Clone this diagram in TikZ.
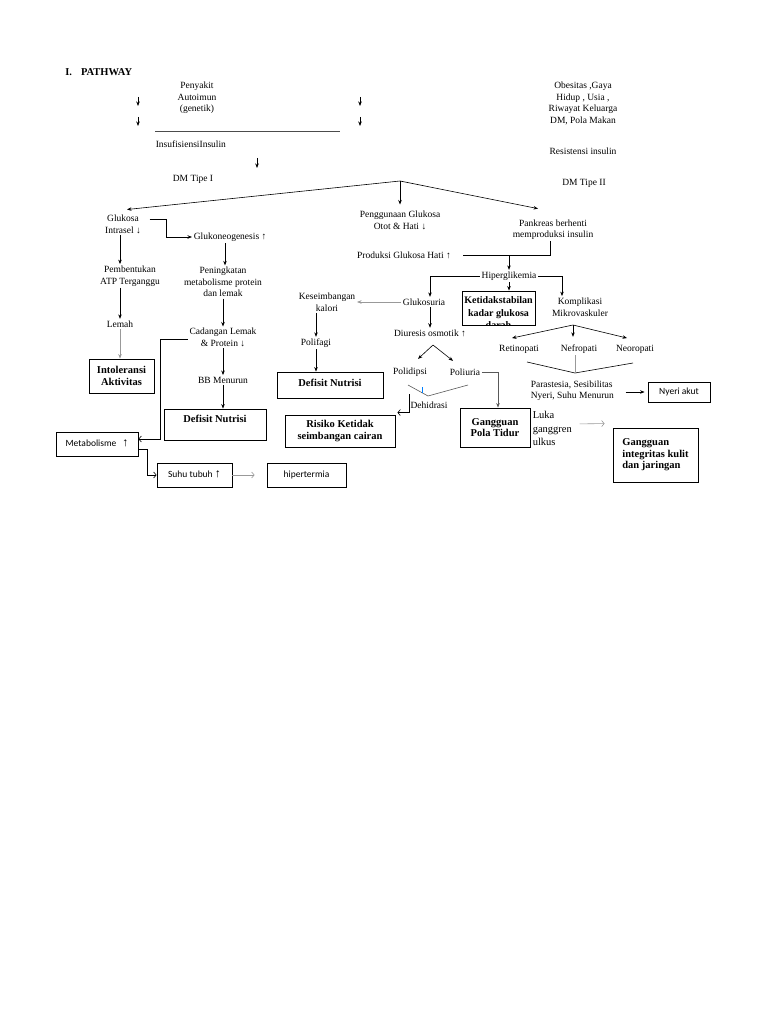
\documentclass[tikz,border=0pt]{standalone}
\usepackage{fontspec}
\setmainfont{Liberation Serif}
\newfontfamily\calibri{Carlito}
\newfontfamily\arialfont{Liberation Sans}
\usetikzlibrary{arrows.meta}

\tikzset{
  txt/.style={align=center,inner sep=1.5pt,font=\fontsize{9.5}{11.5}\selectfont},
  lbox/.style={draw,line width=0.9pt,align=center,inner sep=2pt,font=\bfseries\fontsize{10.5}{11.5}\selectfont},
  cbox/.style={draw,line width=0.9pt,inner sep=2pt,font=\calibri\fontsize{9.5}{11}\selectfont},
  arr/.style={-{Stealth[length=4.5pt,width=3.5pt]}},
  oarr/.style={-{Straight Barb[length=2.5pt,width=6pt]}},
  faint/.style={draw=gray!80},
}
\newcommand{\uparr}{{\arialfont\fontsize{12}{12}\selectfont ↑}}

\begin{document}
\begin{tikzpicture}[x=1pt,y=-1pt,line width=0.6pt]
			\useasboundingbox (0,0) rectangle (768,1024);
			%\draw[help lines,step=50] (0,0) grid (768,1024);
			\node[anchor=west,inner sep=0,font=\bfseries\fontsize{10.5}{12}\selectfont] (title) at (65,72) {I.\hspace{9pt}PATHWAY};
			% causes
			\node[txt] (autoimun) at (197,98) {Penyakit\\Autoimun\\(genetik)};
			\node[txt,anchor=west] (insuf) at (154,144) {InsufisiensiInsulin};
			\node[txt] (dmone) at (193,179) {DM Tipe I};
			\node[txt,font=\fontsize{9.5}{11.7}\selectfont] (faktor) at (583,103.5) {Obesitas ,Gaya\\Hidup , Usia ,\\Riwayat Keluarga\\DM, Pola Makan};
			\node[txt] (resist) at (583,151) {Resistensi insulin};
			\node[txt] (dmtwo) at (584,183) {DM Tipe II};
			\foreach \x in {138,360}
				\foreach \y in {97,117}
					\draw[arr] (\x,\y) -- (\x,\y+9);
			\draw[gray!60!black] (155,131) -- (340,131);
			\draw[arr] (257,158) -- (257,168);
			% left branch
			\coordinate (split) at (400,181);
			\node[txt] (glukosa) at (123,224.5) {Glukosa\\Intrasel ↓};
			\node[txt,anchor=west] (neogen) at (192,237) {Glukoneogenesis ↑};
			\node[txt] (atp) at (130,276) {Pembentukan\\ATP Terganggu};
			\node[txt] (lemah) at (120,324) {Lemah};
			\node[lbox,minimum width=65pt,minimum height=34pt] (intol) at (121.5,376) {Intoleransi\\Aktivitas};
			\node[txt] (protein) at (223,282) {Peningkatan\\metabolisme protein\\dan lemak};
			\node[txt] (cadangan) at (223,337.5) {Cadangan Lemak\\\& Protein ↓};
			\node[txt] (bb) at (223,380) {BB Menurun};
			\node[lbox,minimum width=102pt,minimum height=31pt,text height=8pt,text depth=13pt] (defisitA) at (215,424.5) {Defisit Nutrisi};
			\node[cbox,minimum width=82pt,minimum height=24pt,text height=9pt,text depth=5pt] (metab) at (97,444) {Metabolisme\hspace{6pt}\uparr};
			\node[cbox,minimum width=75pt,minimum height=24pt,text height=9pt,text depth=4pt] (suhu) at (194.5,475) {Suhu tubuh \uparr};
			\node[cbox,minimum width=79pt,minimum height=24pt,text height=8pt,text depth=4pt] (hipert) at (306.5,475) {hipertermia};
			\draw[arr] (split) -- ([xshift=4pt,yshift=4pt]glukosa.north);
			\draw[arr] ([xshift=7pt,yshift=5pt]glukosa.east) -- ++(17,0) |- (neogen.west);
			\draw[arr] (glukosa.south -| lemah) -- (atp.north -| lemah);
			\draw[arr] (atp.south -| lemah) -- (lemah.north);
			\draw[arr,faint] (lemah.south) -- (lemah.south |- intol.north);
			\draw[arr] (neogen.south -| 225,0) -- (protein.north -| 225,0);
			\draw[arr] (protein.south) -- (cadangan.north);
			\draw[arr] (cadangan.south) -- (bb.north);
			\draw[arr] (bb.south) -- (bb.south |- defisitA.north);
			\draw[oarr] ([yshift=-2pt]cadangan.west) -- ++(-28,0) |- ([yshift=5pt]metab.east);
			\draw[oarr] ([yshift=-5pt]metab.east) -- ++(9,0) |- (suhu.west);
			\draw[oarr,faint,shorten >=12pt] (suhu) -- (hipert);
			% middle branch
			\node[txt] (otot) at (400,220.5) {Penggunaan Glukosa\\Otot \& Hati ↓};
			\node[txt] (hati) at (404,255) {Produksi Glukosa Hati ↑};
			\node[txt] (pankreas) at (553,229.5) {Pankreas berhenti\\memproduksi insulin};
			\node[txt] (hiper) at (509,276) {Hiperglikemia};
			\node[txt] (glukosuria) at (424,302) {Glukosuria};
			\node[lbox,minimum width=73pt,minimum height=34pt,
				path picture={\node[anchor=north,align=center,inner sep=0pt,font=\bfseries\fontsize{10}{12.6}\selectfont] (kadartext) at ([yshift=-4.5pt]path picture bounding box.north) {Ketidakstabilan\\kadar glukosa\\darah};}] (kadar) at (498.5,308) {};
			\node[txt] (mikro) at (580,307) {Komplikasi\\Mikrovaskuler};
			\node[txt] (kalori) at (327,302) {Keseimbangan\\kalori};
			\node[txt] (polifagi) at (316,343) {Polifagi};
			\node[lbox,minimum width=106pt,minimum height=26pt,text height=8pt,text depth=6pt] (defisitB) at (330,385) {Defisit Nutrisi};
			\node[txt] (diuresis) at (430,333) {Diuresis osmotik ↑};
			\node[txt] (polidipsi) at (410,372) {Polidipsi};
			\node[txt] (poliuria) at (465,372) {Poliuria};
			\node[txt] (dehidrasi) at (429,405) {Dehidrasi};
			\node[lbox,minimum width=110pt,minimum height=32pt] (cairan) at (340,431) {Risiko Ketidak\\seimbangan cairan};
			\node[lbox,minimum width=70pt,minimum height=39pt] (tidur) at (495,427.5) {Gangguan\\Pola Tidur};
			\draw[arr] (split) -- ([yshift=5pt]otot.north);
			\draw[arr] (split) -- ([xshift=-15pt,yshift=9pt]pankreas.north);
			\draw ([xshift=-3pt]pankreas.south) |- ([xshift=10pt]hati.east);
			\draw[arr] (hiper |- hati) -- (hiper.north);
			\draw[arr] (hiper.west) -| ([xshift=6pt]glukosuria.north);
			\draw[arr] (hiper.south) -- (hiper.south |- kadar.north);
			\draw[arr] (hiper.east) -| ([xshift=-18pt]mikro.north);
			\draw[arr,faint] (glukosuria.west) -- (kalori.east);
			\draw[arr] (polifagi |- kalori.south) -- (polifagi.north);
			\draw[arr] (polifagi.south) -- (polifagi.south |- defisitB.north);
			\draw[arr] (diuresis |- glukosuria.south) -- (diuresis.north);
			\coordinate (osmo) at (433,345);
			\draw[arr] (osmo) -- ([xshift=8pt,yshift=7pt]polidipsi.north);
			\draw[arr] (osmo) -- ([xshift=-12pt,yshift=6pt]poliuria.north);
			\draw[arr,draw=gray!70!black] (poliuria.east) -| ([xshift=3pt]tidur.north);
			\coordinate (dleft) at (408,385);
			\coordinate (dlow) at (428,396);
			\coordinate (dright) at (468,385);
			\draw[gray!70!black] (dleft) -- (dlow) -- (dright);
			\draw[blue!50!cyan] (422,387) -- (422,393);
			\draw[oarr] (409,394) |- ([xshift=2pt,yshift=2pt]cairan.north east);
			% right branch
			\node[txt] (retino) at (519,349) {Retinopati};
			\node[txt] (nefro) at (579,349) {Nefropati};
			\node[txt] (neuro) at (635,349) {Neoropati};
			\node[txt,align=left,anchor=west] (parastesia) at (529,390.5) {Parastesia, Sesibilitas\\Nyeri, Suhu Menurun};
			\node[cbox,minimum width=62pt,minimum height=20pt] (nyeri) at (679,392) {Nyeri akut};
			\node[txt,align=left,anchor=west,font=\fontsize{10.5}{13.5}\selectfont] (luka) at (531,428.5) {Luka\\ganggren\\ulkus};
			\node[lbox,align=left,minimum width=85pt,minimum height=54pt] (kulit) at (655.5,455) {Gangguan\\integritas kulit\\dan jaringan};
			\coordinate (mikrosplit) at (573,325);
			\draw[arr] (mikrosplit) -- ([xshift=-7pt,yshift=5pt]retino.north);
			\draw[arr] (mikrosplit) -- ([xshift=-6pt,yshift=6pt]nefro.north);
			\draw[arr] (mikrosplit) -- ([xshift=-8pt,yshift=5pt]neuro.north);
			\coordinate (nleft) at (527,362);
			\coordinate (nlow) at (575,373);
			\coordinate (nright) at (633,363);
			\draw (nleft) -- (nlow) -- (nright);
			\draw[faint] ([xshift=-4pt]nefro.south) -- (nlow);
			\draw[arr,shorten <=10pt,shorten >=3pt] ([yshift=-1.5pt]parastesia.east) -- ([yshift=-1.5pt]parastesia.east -| nyeri.west);
			\draw[oarr,faint,shorten <=6pt] ([yshift=4.5pt]luka.east) -- ([xshift=-8pt,yshift=4pt]kulit.north west);
		\end{tikzpicture}
\end{document}
